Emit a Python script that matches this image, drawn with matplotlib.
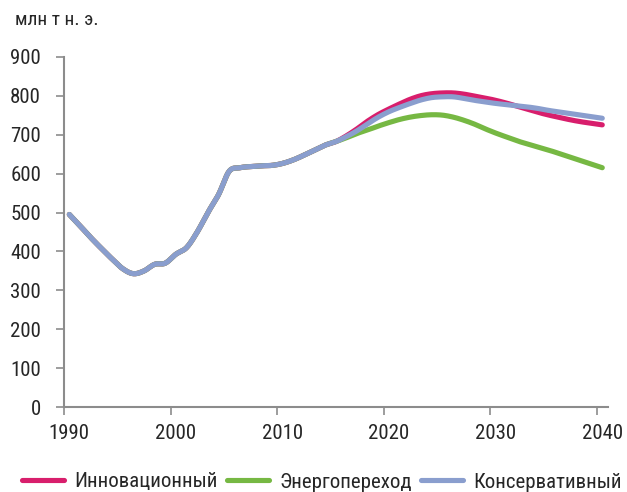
import numpy as np
import matplotlib
matplotlib.use("Agg")
import matplotlib.pyplot as plt
from matplotlib.lines import Line2D

plt.rcParams['font.family'] = ['Roboto Condensed', 'Liberation Sans Narrow',
                               'DejaVu Sans Condensed', 'Roboto', 'DejaVu Sans']

# Historical consumption, 1990-2015 (shared by all scenarios)
hist_years = list(range(1990, 2016))
hist_values = [495, 466, 436, 408, 381, 356, 343, 350, 367, 370,
               393, 410, 450, 500, 546, 606, 615, 618, 620, 621,
               626, 635, 647, 660, 673, 682]

# Scenario projections, 2016-2040
proj_years = list(range(2016, 2041))
innovation = [697, 715, 735, 752, 766, 779, 791, 800, 805, 807,
              807, 804, 799, 794, 788, 781, 773, 765, 757, 750,
              744, 738, 733, 729, 725]
transition = [692, 703, 712, 722, 731, 739, 745, 749, 751, 750,
              745, 737, 727, 715, 704, 694, 684, 676, 668, 660,
              651, 642, 633, 624, 615]
conservative = [695, 710, 728, 745, 759, 770, 780, 789, 795, 797,
                797, 793, 788, 784, 780, 777, 774, 771, 767, 762,
                758, 754, 750, 746, 742]

series_names = ['Инновационный', 'Энергопереход', 'Консервативный']
series_colors = ['#D81E6C', '#76B843', '#8A9ECE']
unit_label = 'млн т н. э.'
x_labels = ['1990', '2000', '2010', '2020', '2030', '2040']
y_ticks = [0, 100, 200, 300, 400, 500, 600, 700, 800, 900]


def smooth(x, y, n=24):
    """Bezier smoothing through every point, tangents from neighbours."""
    x = np.asarray(x, float)
    y = np.asarray(y, float)
    px = np.concatenate([[x[0]], x, [x[-1]]])
    py = np.concatenate([[y[0]], y, [y[-1]]])
    t = np.linspace(0, 1, n, endpoint=False)
    xs, ys = [], []
    for i in range(1, len(px) - 2):
        for p, out in ((px, xs), (py, ys)):
            p0, p1, p2, p3 = p[i - 1], p[i], p[i + 1], p[i + 2]
            c1 = p1 + (p2 - p0) / 6.0
            c2 = p2 - (p3 - p1) / 6.0
            out.append((1 - t) ** 3 * p1 + 3 * (1 - t) ** 2 * t * c1
                       + 3 * (1 - t) * t ** 2 * c2 + t ** 3 * p2)
    xs.append([x[-1]])
    ys.append([y[-1]])
    return np.concatenate(xs), np.concatenate(ys)


fig = plt.figure(figsize=(6.27, 4.92), dpi=100)
ax = fig.add_axes([64 / 627, 84.7 / 492, 543.6 / 627, 350.6 / 492])

years = hist_years + proj_years
lw = 3.7
for name, proj, color in zip(series_names, [innovation, transition, conservative], series_colors):
    sx, sy = smooth(years, hist_values + proj)
    ax.plot(sx, sy, color=color, lw=lw, solid_capstyle='round', solid_joinstyle='round')

ax.set_xlim(1989.5, 2040.5)
ax.set_ylim(0, 900)

spine_color = '#8C8C8C'
for side in ('top', 'right'):
    ax.spines[side].set_visible(False)
for side in ('left', 'bottom'):
    ax.spines[side].set_color(spine_color)
    ax.spines[side].set_linewidth(1.5)

ax.set_yticks(y_ticks)
ax.set_yticklabels([str(v) for v in y_ticks])
ax.tick_params(axis='y', which='major', length=6, width=1.2, color=spine_color,
               pad=10.5, labelsize=15, labelcolor='#262626')

label_pos = [int(s) for s in x_labels]
ax.set_xticks(label_pos)
ax.set_xticklabels(x_labels)
ax.set_xticks([p - 0.5 for p in label_pos], minor=True)
ax.tick_params(axis='x', which='major', length=0, pad=12, labelsize=15, labelcolor='#262626')
ax.tick_params(axis='x', which='minor', length=6, width=1.2, color=spine_color)

fig.text(15 / 627, 1 - 20 / 492, unit_label, fontsize=14, color='#262626', va='center', ha='left')

handles = [Line2D([0], [0], color=c, lw=lw, solid_capstyle='round') for c in series_colors]
fig.legend(handles, series_names, loc='center', bbox_to_anchor=(322 / 627, 1 - 482 / 492),
           ncol=3, frameon=False, fontsize=15, handlelength=2.0, handletextpad=0.5,
           columnspacing=0.45, labelcolor='#262626', borderpad=0, borderaxespad=0)

fig.savefig('out.png', dpi=100)
